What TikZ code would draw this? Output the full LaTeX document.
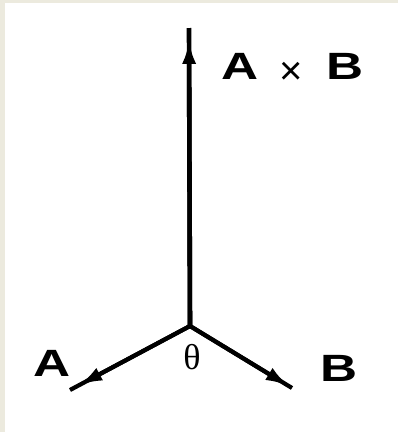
\documentclass[tikz,border=0pt]{standalone}
\usepackage{fontspec}
\setmainfont{Liberation Sans}
\newfontfamily\grfont{Liberation Serif}
\usetikzlibrary{arrows.meta,calc}
\definecolor{framebeige}{RGB}{236,234,222}
\begin{document}
\begin{tikzpicture}[x=1pt,y=-1pt,
  vec/.style={line width=4.2pt},
  head/.style={line width=4.2pt, -{Latex[length=24pt,width=14pt]}},
  lbl/.style={inner sep=0pt, font=\fontsize{38}{38}\selectfont\bfseries}
]
\fill[framebeige] (0,0) rectangle (398,432);
\fill[white] (5,3) rectangle (398,432);
\useasboundingbox (0,0) rectangle (398,432);

\coordinate (O) at (190,326);
\coordinate (Ztop) at (189,28);
\coordinate (Aend) at (70,390);
\coordinate (Bend) at (292,388);

\draw[vec, line width=4.6pt] (O) -- (Ztop);
\draw[head, line width=4.6pt] (O) -- ($(O)!0.96!(Ztop)$);
\draw[vec] (O) -- (Aend);
\draw[head] (O) -- ($(O)!0.93!(Aend)$);
\draw[vec] (O) -- (Bend);
\draw[head] (O) -- ($(O)!0.975!(Bend)$);

\node[lbl, anchor=base] (la) at (52,376) {\scalebox{1.35}[1]{A}};
\node[lbl, anchor=base] (lb) at (339,381) {\scalebox{1.35}[1]{B}};
\node[lbl, anchor=base west] (lab) at (221,79)
  {\scalebox{1.35}[1]{A}\hspace{21pt}\raisebox{-5pt}{\fontsize{40}{40}\selectfont\mdseries ×}\hspace{24pt}\scalebox{1.35}[1]{B}};
\node[inner sep=0pt, font=\fontsize{36}{36}\grfont] (th) at (192,357) {θ};
\end{tikzpicture}
\end{document}
